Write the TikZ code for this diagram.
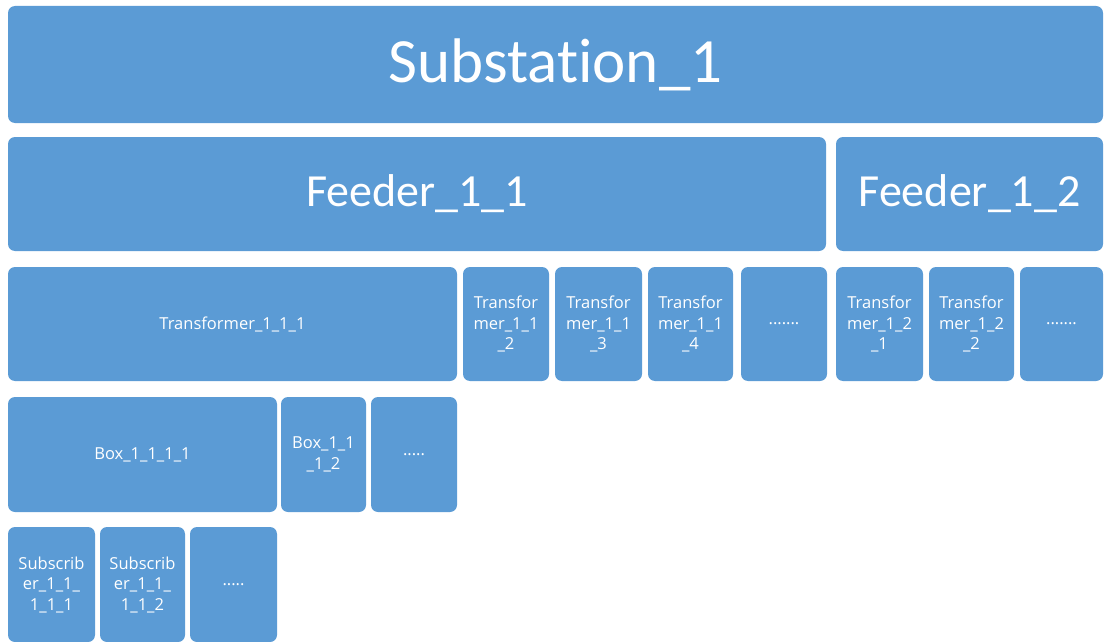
\documentclass[tikz,border=0pt]{standalone}
\usepackage{fontspec}
\setmainfont{Carlito}[Ligatures=NoCommon]
\newfontfamily\boxfont{Open Sans}
\usepackage{tikz}
\usetikzlibrary{positioning}

\definecolor{officeblue}{RGB}{91,155,213}

\tikzset{
	block/.style={fill=officeblue, rounded corners=7pt, inner sep=0pt, outer sep=0pt,
		text=white, align=center, anchor=north west},
	bigtext/.style={font=\fontsize{63}{70}\selectfont},
	midtext/.style={font=\fontsize{46}{52}\selectfont},
	smalltext/.style={font=\boxfont\fontsize{16.5}{20.5}\selectfont}
}

\begin{document}
\begin{tikzpicture}[x=1pt, y=-1pt]

\useasboundingbox (0, 0) rectangle (1104, 642);

% Substation
\node [block, bigtext,
	minimum width=1095pt,
	minimum height=117pt
] (substation_1) at (8, 6) {Substation\_1};

% Feeder 1
\node [block, midtext,
	minimum width=818pt,
	minimum height=114pt
] (feeder_1_1) at (8, 137) {Feeder\_1\_1};

% Feeder 2
\node [block, midtext,
	minimum width=267pt,
	minimum height=114pt
] (feeder_1_2) at (836, 137) {Feeder\_1\_2};

% Transformer 1
\node [block, smalltext,
	minimum width=449pt,
	minimum height=114pt
] (transformer_1_1_1) at (8, 267) {Transformer\_1\_1\_1};

% Transformer 2
\node [block, smalltext,
	minimum width=86pt,
	minimum height=114pt
] (transformer_1_1_2) at (463, 267) {Transfor\\mer\_1\_1\\\_2};

% Transformer 3
\node [block, smalltext,
	minimum width=87pt,
	minimum height=114pt
] (transformer_1_1_3) at (555, 267) {Transfor\\mer\_1\_1\\\_3};

% Transformer 4
\node [block, smalltext,
	minimum width=85pt,
	minimum height=114pt
] (transformer_1_1_4) at (648, 267) {Transfor\\mer\_1\_1\\\_4};

% More transformers of feeder 1
\node [block, smalltext,
	minimum width=86pt,
	minimum height=114pt
] (transformer_1_1_more) at (741, 267) {.......};

% Transformer 1 of feeder 2
\node [block, smalltext,
	minimum width=87pt,
	minimum height=114pt
] (transformer_1_2_1) at (836, 267) {Transfor\\mer\_1\_2\\\_1};

% Transformer 2 of feeder 2
\node [block, smalltext,
	minimum width=85pt,
	minimum height=114pt
] (transformer_1_2_2) at (929, 267) {Transfor\\mer\_1\_2\\\_2};

% More transformers of feeder 2
\node [block, smalltext,
	minimum width=83pt,
	minimum height=114pt
] (transformer_1_2_more) at (1020, 267) {.......};

% Box 1
\node [block, smalltext,
	minimum width=269pt,
	minimum height=115pt
] (box_1_1_1_1) at (8, 397) {Box\_1\_1\_1\_1};

% Box 2
\node [block, smalltext,
	minimum width=85pt,
	minimum height=115pt
] (box_1_1_1_2) at (281, 397) {Box\_1\_1\\\_1\_2};

% More boxes
\node [block, smalltext,
	minimum width=86pt,
	minimum height=115pt
] (box_more) at (371, 397) {.....};

% Subscriber 1
\node [block, smalltext,
	minimum width=87pt,
	minimum height=115pt
] (subscriber_1) at (8, 527) {Subscrib\\er\_1\_1\_\\1\_1\_1};

% Subscriber 2
\node [block, smalltext,
	minimum width=85pt,
	minimum height=115pt
] (subscriber_2) at (100, 527) {Subscrib\\er\_1\_1\_\\1\_1\_2};

% More subscribers
\node [block, smalltext,
	minimum width=87pt,
	minimum height=115pt
] (subscriber_more) at (190, 527) {.....};

\end{tikzpicture}
\end{document}
